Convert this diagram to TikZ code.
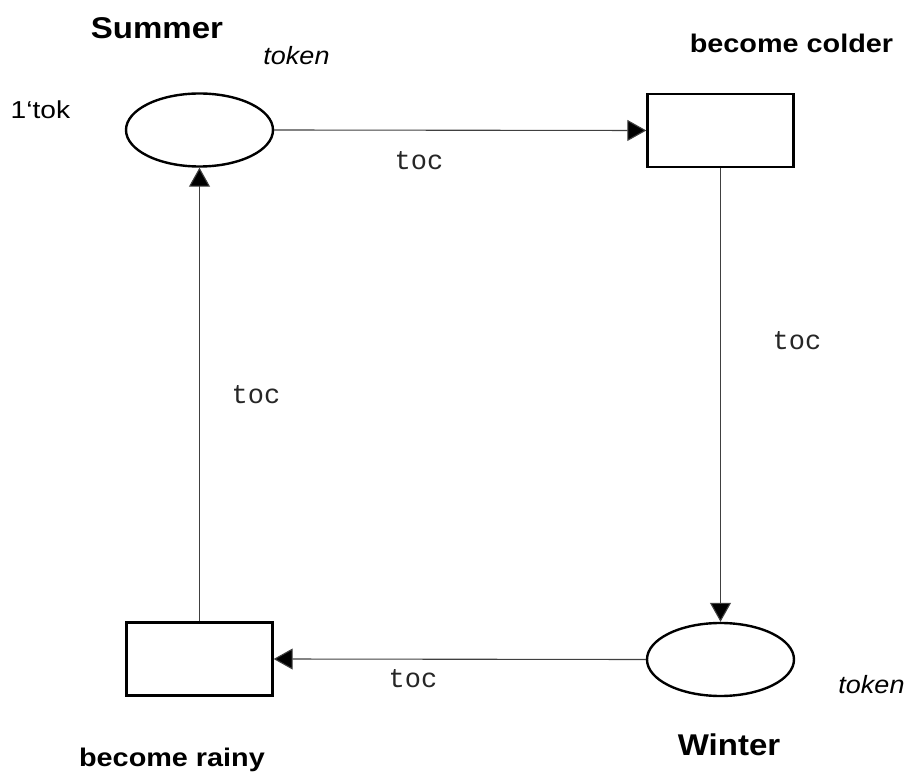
\documentclass[tikz,border=0pt]{standalone}
\usepackage{fontspec}
\usepackage{graphicx}
\setmainfont{Liberation Sans}
\newfontfamily\monof{Liberation Mono}
\usetikzlibrary{shapes.geometric,arrows.meta}
\tikzset{
  place/.style={ellipse,draw,line width=2.4pt,minimum width=147pt,minimum height=73pt,inner sep=0pt},
  trans/.style={rectangle,draw,line width=2.4pt,minimum width=146pt,minimum height=73pt,inner sep=0pt},
  arc/.style={line width=1.1pt,draw=black!75,-{Triangle[length=19pt,width=21pt,fill=black]}},
  lbl/.style={inner sep=0pt,anchor=base},
}
\newcommand{\pname}[1]{\scalebox{1.1}[1]{\fontsize{30}{36}\selectfont\bfseries #1}}
\newcommand{\tname}[1]{\scalebox{1.13}[1]{\fontsize{25.5}{30}\selectfont\bfseries #1}}
\newcommand{\tok}[1]{\scalebox{1.08}[1]{\fontsize{25}{30}\selectfont\itshape #1}}
\newcommand{\inscr}[1]{\fontsize{27}{32}\selectfont\color{black!85}\monof #1}
\begin{document}
\begin{tikzpicture}[x=1pt,y=-1pt]
\useasboundingbox (0,0) rectangle (914,775);
\node[place] (summer) at (199.5,130) {};
\node[trans] (colder) at (720.5,130.5) {};
\node[place] (winter) at (720.5,659.5) {};
\node[trans] (rainy) at (199.5,659) {};

\draw[arc] (summer.east) -- (colder.west);
\draw[arc] (colder.south) -- (winter.north);
\draw[arc] (winter.west) -- (rainy.east);
\draw[arc] (rainy.north) -- (summer.south);

\node[lbl] (lsummer) at (157,38.5) {\pname{Summer}};
\node[lbl] (ltok1) at (296.5,65) {\tok{token}};
\node[lbl] (linit) at (40.5,119) {\scalebox{1.15}[1]{\fontsize{24.5}{29}\selectfont 1‘tok}};
\node[lbl] (lcolder) at (791.5,52.5) {\tname{become colder}};
\node[lbl] (lwinter) at (729,755) {\pname{Winter}};
\node[lbl] (ltok2) at (871.5,693) {\tok{token}};
\node[lbl] (lrainy) at (172,766.5) {\tname{become rainy}};

\node[lbl] (a1) at (419,170) {\inscr{toc}};
\node[lbl] (a2) at (797,350) {\inscr{toc}};
\node[lbl] (a3) at (413,687) {\inscr{toc}};
\node[lbl] (a4) at (256,404) {\inscr{toc}};
\end{tikzpicture}
\end{document}
